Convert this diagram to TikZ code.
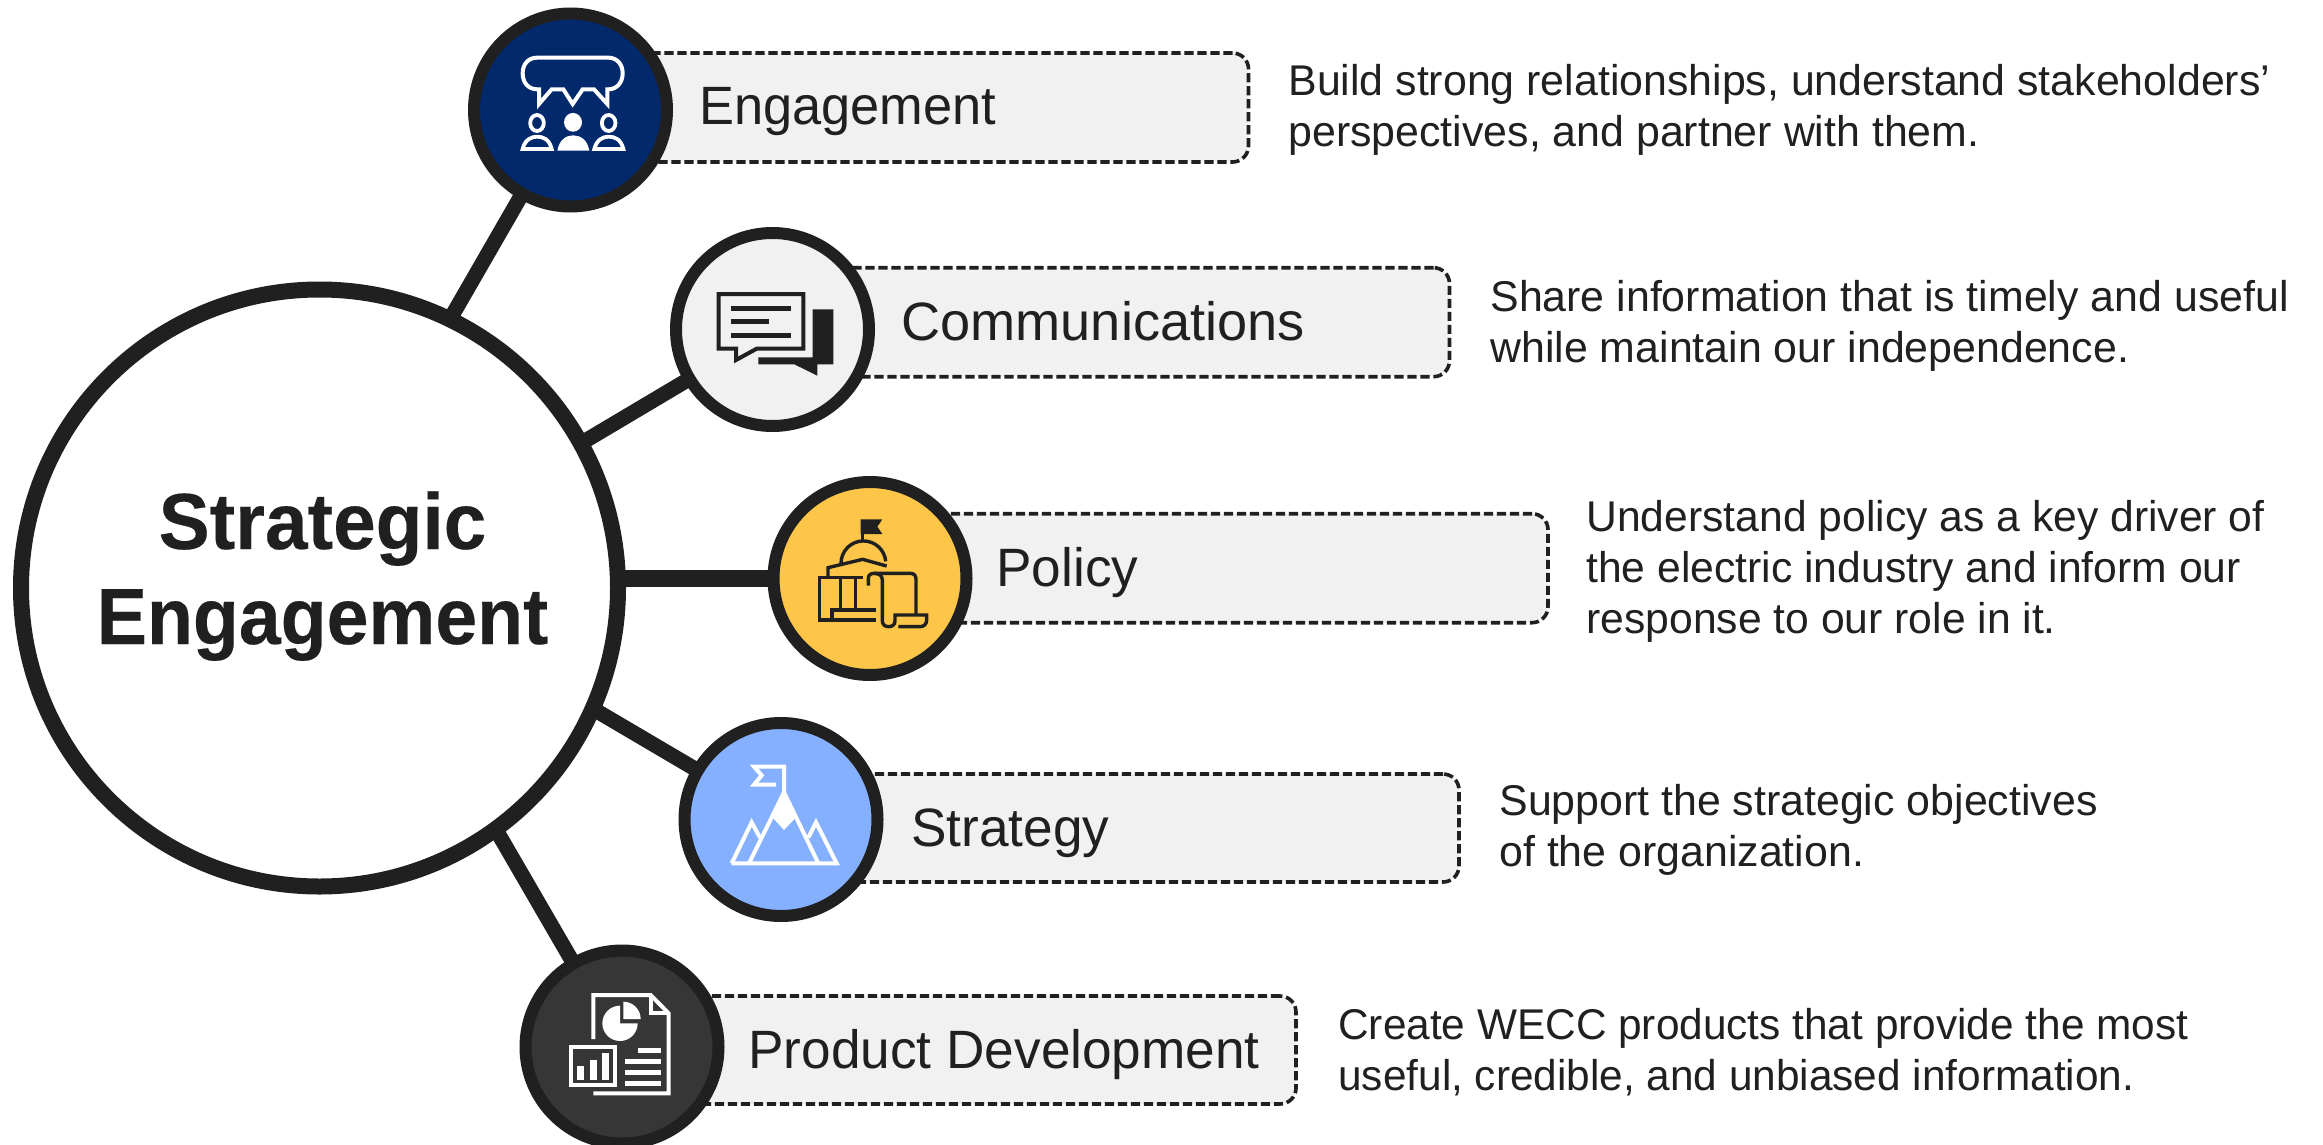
\documentclass[tikz,border=0pt]{standalone}
\usepackage{fontspec}
\newfontfamily\ttlf[FakeStretch=0.945,FakeBold=0.25]{Liberation Sans}
\newfontfamily\ttls[FakeStretch=0.962,FakeBold=0.25]{Liberation Sans}
\newfontfamily\labf[FakeStretch=0.985]{Liberation Sans}
\newfontfamily\labe[FakeStretch=0.97]{Liberation Sans}
\newfontfamily\labc[FakeStretch=1.003]{Liberation Sans}
\newfontfamily\bodf[FakeStretch=0.997]{Liberation Sans}
\newfontfamily\bodp[FakeStretch=0.992]{Liberation Sans}
\newfontfamily\bodd[FakeStretch=0.985]{Liberation Sans}
\definecolor{ink}{HTML}{202020}
\definecolor{navy}{HTML}{03296D}
\definecolor{sun}{HTML}{FDC649}
\definecolor{sky}{HTML}{85B0FF}
\definecolor{pale}{HTML}{F1F1F1}
\definecolor{coal}{HTML}{363636}
\pgfdeclarelayer{bg}
\pgfsetlayers{bg,main}
\tikzset{
  hub/.style={circle,draw=ink,line width=8pt,fill=white,minimum size=298.5pt,inner sep=0pt,text=ink,align=center,font=\ttlf\bfseries\fontsize{39.8}{47.5}\selectfont},
  spoke/.style={circle,draw=ink,line width=6pt,minimum size=96.5pt,inner sep=0pt},
  tag/.style={draw=ink,fill=pale,line width=1.8pt,dash pattern=on 4.6pt off 1.9pt,rounded corners=8pt,anchor=north west,inner sep=0pt,outer sep=0pt},
  lab/.style={anchor=base west,inner sep=0pt,text=ink,font=\labf\fontsize{27}{32}\selectfont},
  desc/.style={anchor=north west,inner sep=0pt,text=ink,align=left,font=\bodf\fontsize{21.5}{25.5}\selectfont},
  link/.style={draw=ink,line width=7.5pt,shorten <=-6pt},
  wl/.style={draw=white,line width=2pt},
  dl/.style={draw=ink,line width=1.7pt},
  zoomed/.style={x=0.16667pt,y=-0.16667pt}
}
\begin{document}
\begin{tikzpicture}[x=0.5pt,y=-0.5pt]
\useasboundingbox (0,0) rectangle (2323,1145);
\begin{pgfonlayer}{bg}
\fill[white] (0,0) rectangle (2323,1145);
\end{pgfonlayer}
% label boxes
\node[tag,minimum width=339pt,minimum height=54.5pt] (tagE) at (570.5,53) {};
\node[tag,minimum width=338.5pt,minimum height=54.5pt] (tagC) at (772.5,267.7) {};
\node[tag,minimum width=339pt,minimum height=54.5pt] (tagP) at (870,513.7) {};
\node[tag,minimum width=339pt,minimum height=54pt] (tagS) at (781,774) {};
\node[tag,minimum width=337pt,minimum height=54pt] (tagD) at (622,996) {};
% circles
\node[hub] (hub) at (319.5,588) {\hspace*{3pt}{\ttls\strut Strategic}\\\hspace*{3pt}\strut Engagement\rule[-24.75pt]{0pt}{30pt}};
\node[spoke,fill=navy] (eng) at (570.5,110) {};
\node[spoke,fill=pale] (com) at (772.5,329.5) {};
\node[spoke,fill=sun] (pol) at (870,578.5) {};
\node[spoke,fill=sky] (str) at (781,819.5) {};
\node[spoke,fill=coal] (pro) at (622,1047) {};
% connectors
\begin{pgfonlayer}{bg}
\draw[link] (hub.64) -- (eng.center);
\draw[link] (hub.29.5) -- (com.center);
\draw[link,line width=8.5pt,shorten <=0pt] (pol.center -| hub.center) -- (pol.center);
\draw[link] (hub.-24.3) -- (str.center);
\draw[link] (hub.-54.1) -- (pro.center);
\end{pgfonlayer}
% labels
\node[lab,font=\labe\fontsize{27}{32}\selectfont] (labE) at (699,125) {Engagement};
\node[lab,font=\labc\fontsize{27}{32}\selectfont] (labC) at (901,340) {Communications};
\node[lab] (labP) at (996,586) {Policy};
\node[lab] (labS) at (911,846) {Strategy};
\node[lab] (labD) at (748,1068.5) {Product Development};
% descriptions
\node[desc] (txtE) at (1288,59.3) {\strut Build strong relationships, understand stakeholders’\\\strut perspectives, and partner with them.};
\node[desc] (txtC) at (1490,275.3) {\strut Share information that is timely and useful\\\strut while maintain our independence.};
\node[desc,font=\bodp\fontsize{21.5}{25.5}\selectfont] (txtP) at (1586,494.9) {\strut Understand policy as a key driver of\\\strut the electric industry and inform our\\\strut response to our role in it.};
\node[desc] (txtS) at (1499,779.3) {\strut Support the strategic objectives\\\strut of the organization.};
\node[desc,font=\bodd\fontsize{21.5}{25.5}\selectfont] (txtD) at (1338,1003.3) {\strut Create WECC products that provide the most\\\strut useful, credible, and unbiased information.};
% engagement icon
\begin{scope}[shift={(450,0)},zoomed]
\draw[wl] (472,268) -- (475,268) .. controls (500,268) and (518,248) .. (518,220) .. controls (518,192) and (500,173) .. (475,173) -- (262,173) .. controls (235,173) and (218,192) .. (218,220) .. controls (218,248) and (235,268) .. (262,268) -- (267,268) -- (267,312) -- (305,268) -- (340,268) -- (368,312) -- (398,268) -- (432,268) -- (472,312) -- cycle;
\draw[wl,line width=1.9pt] (261,369) ellipse [x radius=3.4pt,y radius=4pt];
\draw[wl,line width=1.9pt] (476,369) ellipse [x radius=3.4pt,y radius=4pt];
\fill[white] (369,367) ellipse [x radius=4.5pt,y radius=4.7pt];
\draw[wl,line width=1.9pt] (218,447) .. controls (225,418) and (245,410) .. (261,410) .. controls (280,410) and (298,418) .. (305,447) -- cycle;
\draw[wl,line width=1.9pt] (433,447) .. controls (440,418) and (460,410) .. (476,410) .. controls (495,410) and (513,418) .. (520,447) -- cycle;
\fill[white] (322,452) .. controls (328,418) and (350,406) .. (369,406) .. controls (390,406) and (412,418) .. (418,452) -- cycle;
\end{scope}
% communications icon
\begin{scope}[shift={(660,220)},zoomed]
\draw[dl,line width=2pt] (176,222) -- (430,222) -- (430,386) -- (290,386) -- (228,420) -- (228,386) -- (176,386) -- cycle;
\fill[ink] (213,258) rectangle (393,272);
\fill[ink] (213,297) rectangle (327,311);
\fill[ink] (213,339) rectangle (393,353);
\fill[ink] (458,268) -- (520,268) -- (520,433) -- (472,433) -- (472,467) -- (403,433) -- (295,433) -- (295,412) -- (458,412) -- cycle;
\end{scope}
% policy icon
\begin{scope}[shift={(770,470)},zoomed]
\draw[dl] (277,150) -- (277,212);
\fill[ink] (272,148) -- (337,148) -- (322,170) -- (337,192) -- (272,192) -- cycle;
\draw[dl] (213,280) arc[start angle=180,end angle=5,radius=11.2pt];
\draw[dl] (278,322) -- (148,322) -- (148,450) -- (318,450);
\draw[dl] (174,322) -- (174,293) -- (278,268) -- (350,288);
\draw[dl] (212,322) -- (212,420);
\draw[dl] (257,322) -- (257,420);
\draw[dl] (318,420) -- (186,420) -- (186,450);
\draw[dl] (295,347) -- (295,325) .. controls (295,315) and (302,310) .. (312,310) -- (420,310) .. controls (432,310) and (438,316) .. (438,328) -- (438,432);
\draw[dl] (312,310) .. controls (326,310) and (337,316) .. (337,330) -- (337,452) .. controls (337,464) and (345,470) .. (356,470) .. controls (367,470) and (375,464) .. (375,452) -- (375,435) -- (470,435) -- (470,450) .. controls (470,462) and (462,470) .. (450,470) -- (385,470);
\end{scope}
% strategy icon
\begin{scope}[shift={(680,715)},zoomed]
\draw[wl] (312,232) -- (312,155) -- (222,155) -- (245,181) -- (222,209) -- (288,209);
\draw[wl] (207,445) -- (312,232) -- (415,445);
\fill[white] (312,232) -- (347,308) -- (312,345) -- (280,310) -- cycle;
\draw[wl] (155,445) -- (470,445) -- (408,322) -- (385,368);
\draw[wl] (155,445) -- (215,322) -- (240,368);
\end{scope}
% product icon
\begin{scope}[shift={(520,945)},zoomed]
\draw[wl] (220,282) -- (220,150) -- (392,150) -- (446,205) -- (446,445) -- (220,445);
\draw[wl] (392,150) -- (392,203) -- (446,203);
\fill[white] (300,182) arc[start angle=90,end angle=360,radius=8.83pt] -- (300,235) -- cycle;
\fill[white] (310,222) -- (310,170) arc[start angle=90,end angle=0,radius=8.67pt] -- cycle;
\fill[coal] (154,300) rectangle (292,426);
\draw[wl] (154,307) rectangle (286,420);
\fill[white] (171,363) rectangle (192,405);
\fill[white] (210,345) rectangle (232,405);
\fill[white] (246,325) rectangle (268,405);
\fill[white] (354,309) rectangle (423,325);
\fill[white] (315,342) rectangle (423,358);
\fill[white] (315,374) rectangle (423,390);
\fill[white] (315,407) rectangle (423,423);
\end{scope}
\end{tikzpicture}
\end{document}
